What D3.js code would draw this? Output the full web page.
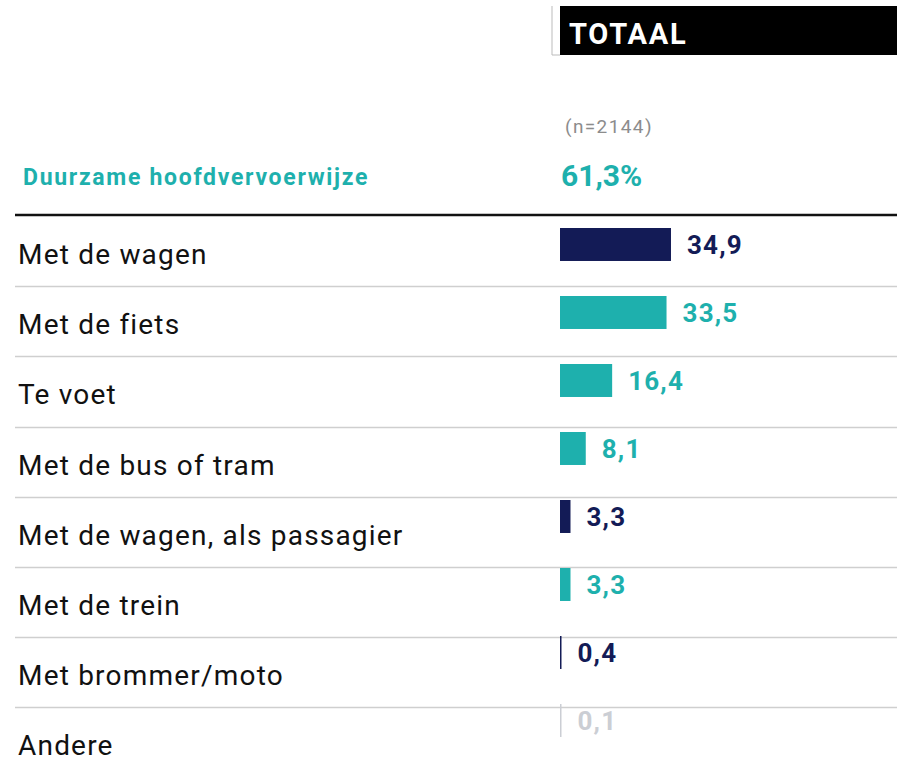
<!DOCTYPE html>
<html>
<head>
<meta charset="utf-8">
<script src="https://cdn.jsdelivr.net/npm/d3@7"></script>
<style>
  body { margin: 0; background: #fff; }
  svg { display: block; font-family: Roboto, "Open Sans", sans-serif; }
</style>
</head>
<body>
<svg id="chart" width="897" height="773"></svg>
<script>
// Data
const modes = ["Met de wagen", "Met de fiets", "Te voet", "Met de bus of tram",
	"Met de wagen, als passagier", "Met de trein", "Met brommer/moto", "Andere"];
const shares = [34.9, 33.5, 16.4, 8.1, 3.3, 3.3, 0.4, 0.1];
const groups = ["car", "green", "green", "green", "car", "green", "car", "other"];
const columnTitle = "TOTAAL";
const sampleLabel = "(n=2144)";
const sustainableLabel = "Duurzame hoofdvervoerwijze";
const sustainableShare = "61,3%";

const COLORS = {car: "#131b56", green: "#1eb0ad", other: "#cbced4"};
const fmt = v => d3.format(".1f")(v).replace(".", ",");

function whenDocumentLoaded(action) {
	if (document.readyState === "loading") {
		document.addEventListener("DOMContentLoaded", action);
	} else {
		action();
	}
}

whenDocumentLoaded(() => {
	const svg = d3.select("#chart");

	const x = d3.scaleLinear().domain([0, 100]).range([560, 878]);

	// rows carry the labels and separators, bars sit on a slightly tighter grid
	const rows = d3.scaleBand().domain(modes).range([216, 216 + 70.2 * modes.length]);
	const bars = d3.scaleBand().domain(modes)
		.range([228, 228 + 68 * (modes.length - 0.515)])
		.paddingInner(0.515).paddingOuter(0);

	// header block
	svg.append("rect")
		.attr("x", 560).attr("y", 6)
		.attr("width", 897 - 560).attr("height", 49)
		.attr("fill", "#000");
	svg.append("path")
		.attr("d", "M552,6V55H560")
		.attr("fill", "none").attr("stroke", "#bbb").attr("stroke-width", 1);
	svg.append("text")
		.attr("x", 569).attr("y", 44)
		.attr("fill", "#fff").attr("font-weight", 700).attr("font-size", 29)
		.attr("letter-spacing", 1.8)
		.text(columnTitle);

	svg.append("text")
		.attr("x", 565).attr("y", 133)
		.attr("fill", "#8c8c8c").attr("font-size", 19)
		.attr("letter-spacing", 1.4)
		.text(sampleLabel);

	svg.append("text")
		.attr("x", 23).attr("y", 185)
		.attr("fill", COLORS.green).attr("font-weight", 700).attr("font-size", 23)
		.attr("letter-spacing", 1.7)
		.text(sustainableLabel);
	svg.append("text")
		.attr("x", 561).attr("y", 186)
		.attr("fill", COLORS.green).attr("font-weight", 700).attr("font-size", 30)
		.text(sustainableShare);

	svg.append("line")
		.attr("x1", 15).attr("x2", 897).attr("y1", 215).attr("y2", 215)
		.attr("stroke", "#111").attr("stroke-width", 2.5);

	// separators
	svg.append("g")
		.selectAll("line")
		.data(modes.slice(0, -1))
		.enter()
		.append("line")
			.attr("x1", 15).attr("x2", 897)
			.attr("y1", d => Math.round(rows(d) + rows.bandwidth()) + 0.5)
			.attr("y2", d => Math.round(rows(d) + rows.bandwidth()) + 0.5)
			.attr("stroke", "#cfcfcf").attr("stroke-width", 1.5);

	// row labels
	svg.append("g")
		.selectAll("text")
		.data(modes)
		.enter()
		.append("text")
			.attr("x", 18)
			.attr("y", d => rows(d) + 48)
			.attr("font-size", 28)
			.attr("letter-spacing", 1.2)
			.attr("fill", "#111")
			.text(d => d);

	const data = modes.map((m, i) => ({mode: m, value: shares[i], group: groups[i]}));

	svg.append("g")
		.selectAll("rect")
		.data(data)
		.enter()
		.append("rect")
			.attr("x", x(0))
			.attr("y", d => bars(d.mode))
			.attr("width", d => Math.max(x(d.value) - x(0), 1.5))
			.attr("height", bars.bandwidth())
			.attr("fill", d => COLORS[d.group]);

	svg.append("g")
		.selectAll("text")
		.data(data)
		.enter()
		.append("text")
			.attr("x", d => Math.max(x(d.value), x(0) + 1.5) + 16)
			.attr("y", d => bars(d.mode) + bars.bandwidth() / 2 + 10)
			.attr("font-size", 26).attr("font-weight", 700)
			.attr("letter-spacing", 1.2)
			.attr("fill", d => COLORS[d.group])
			.text(d => fmt(d.value));
});
</script>
</body>
</html>
